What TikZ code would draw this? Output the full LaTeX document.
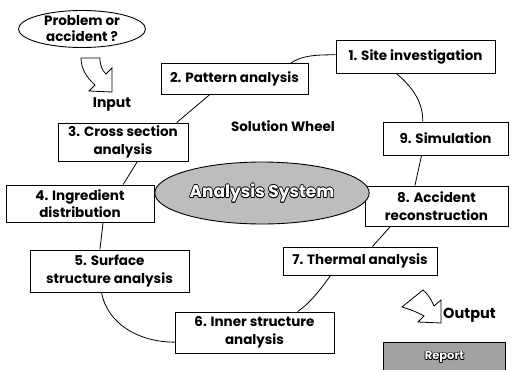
\documentclass[tikz,border=0pt]{standalone}
\usepackage{fontspec}
\setmainfont{Poppins}
\usetikzlibrary{calc,shapes.geometric}
\definecolor{ellgray}{HTML}{BDBDBD}
\definecolor{repgray}{HTML}{A2A2A2}
\newcommand\outltxt[1]{%
  \leavevmode
  \rlap{\kern0.7pt\textcolor{black}{#1}}%
  \rlap{\kern-0.7pt\textcolor{black}{#1}}%
  \rlap{\raisebox{0.7pt}{\textcolor{black}{#1}}}%
  \rlap{\raisebox{-0.7pt}{\textcolor{black}{#1}}}%
  \rlap{\kern0.5pt\raisebox{0.5pt}{\textcolor{black}{#1}}}%
  \rlap{\kern-0.5pt\raisebox{0.5pt}{\textcolor{black}{#1}}}%
  \rlap{\kern0.5pt\raisebox{-0.5pt}{\textcolor{black}{#1}}}%
  \rlap{\kern-0.5pt\raisebox{-0.5pt}{\textcolor{black}{#1}}}%
  \textcolor{white}{#1}}
\begin{document}
\begin{tikzpicture}[x=1pt,y=-1pt,
  stage/.style={draw, line width=0.9pt, fill=white, align=center, inner sep=0pt,
    font=\bfseries\fontsize{13.5}{17.5}\selectfont},
  conn/.style={line width=0.8pt},
  lbl/.style={font=\bfseries\fontsize{13.5}{16}\selectfont, inner sep=0pt},
  blockarrow/.style={draw, line width=0.8pt, fill=white, line join=miter}]
\useasboundingbox (0,0) rectangle (515,370);

% stages
\node[stage, minimum width=159, minimum height=33] (n1) at (415.5,56.5) {1. Site investigation};
\node[stage, minimum width=147, minimum height=31] (n2) at (234.5,79) {2. Pattern analysis};
\node[stage, minimum width=130, minimum height=38] (n3) at (123,142) {3. Cross section\\analysis};
\node[stage, minimum width=148, minimum height=37] (n4) at (80,203.5) {4. Ingredient\\distribution};
\node[stage, minimum width=159, minimum height=42] (n5) at (109.5,271) {5. Surface\\structure analysis};
\node[stage, minimum width=159, minimum height=41] (n6) at (254.5,332.5) {6. Inner structure\\analysis};
\node[stage, minimum width=154, minimum height=28] (n7) at (360,261) {7. Thermal analysis};
\node[stage, minimum width=143, minimum height=40] (n8) at (436.5,206) {8. Accident\\reconstruction};
\node[stage, minimum width=125, minimum height=33] (n9) at (445.5,138.5) {9. Simulation};

% problem ellipse
\node[ellipse, draw, line width=0.9pt, minimum width=127, minimum height=37, inner sep=0pt,
  align=center, font=\bfseries\fontsize{13.5}{16}\selectfont] (prob) at (82,29) {Problem or\\accident ?};

% central ellipse
\node[ellipse, draw, line width=0.9pt, fill=ellgray, minimum width=175, minimum height=62,
  font=\bfseries\fontsize{17}{20}\selectfont] (sys) at (262,193) {\outltxt{Analysis System}};

% report
\node[draw, line width=0.9pt, fill=repgray, minimum width=122, minimum height=30, anchor=north west,
  font=\bfseries\fontsize{11.5}{13}\selectfont] (rep) at (383,342) {\outltxt{Report}};

% labels
\node[lbl] (sw) at (283,126) {Solution Wheel};
\node[lbl, font=\bfseries\fontsize{14}{16}\selectfont] (inp) at (112,104) {Input};
\node[lbl, font=\bfseries\fontsize{14.5}{16}\selectfont, anchor=west] (outp) at (443,315) {Output};

% connectors
\draw[conn] ($(n2.north west)!0.88!(n2.north east)$) .. controls +(12,-8) and +(-18,0) .. ($(n1.north west)!0.45!(n1.south west)$);
\draw[conn] ($(n1.south west)!0.38!(n1.south east)$) .. controls +(14,12) and +(0,-22) .. ($(n9.north west)!0.32!(n9.north east)$);
\draw[conn] ($(n9.south west)!0.31!(n9.south east)$) -- ($(n8.north west)!0.35!(n8.north east)$);
\draw[conn] ($(n8.south west)!0.18!(n8.south east)$) -- ($(n7.north west)!0.58!(n7.north east)$);
\draw[conn] ($(n7.south west)!0.31!(n7.south east)$) .. controls +(-10,14) and +(12,-8) .. ($(n6.north west)!0.77!(n6.north east)$);
\draw[conn] ($(n5.south west)!0.45!(n5.south east)$) .. controls +(6,32) and +(-35,0) .. ($(n6.north west)!0.73!(n6.south west)$);
\draw[conn] ($(n5.north west)!0.44!(n5.north east)$) -- ($(n4.south west)!0.655!(n4.south east)$);
\draw[conn] ($(n4.north west)!0.79!(n4.north east)$) -- ($(n3.south west)!0.61!(n3.south east)$);
\draw[conn] ($(n3.north west)!0.91!(n3.north east)$) -- ($(n2.south west)!0.33!(n2.south east)$);

% input block arrow
\draw[blockarrow] (81,58) -- (100,58) .. controls (100,66) and (102,70) .. (106,74)
  -- (112,68) -- (112,92) -- (89,91) -- (95,85) .. controls (86,77) and (81,68) .. cycle;

% output block arrow
\draw[blockarrow] (402,307) -- (423,290) .. controls (428,294) and (431,299) .. (434,306)
  -- (441,300) -- (441,323) -- (418,322) -- (424,316) .. controls (417,312) and (409,309) .. cycle;
\end{tikzpicture}
\end{document}
